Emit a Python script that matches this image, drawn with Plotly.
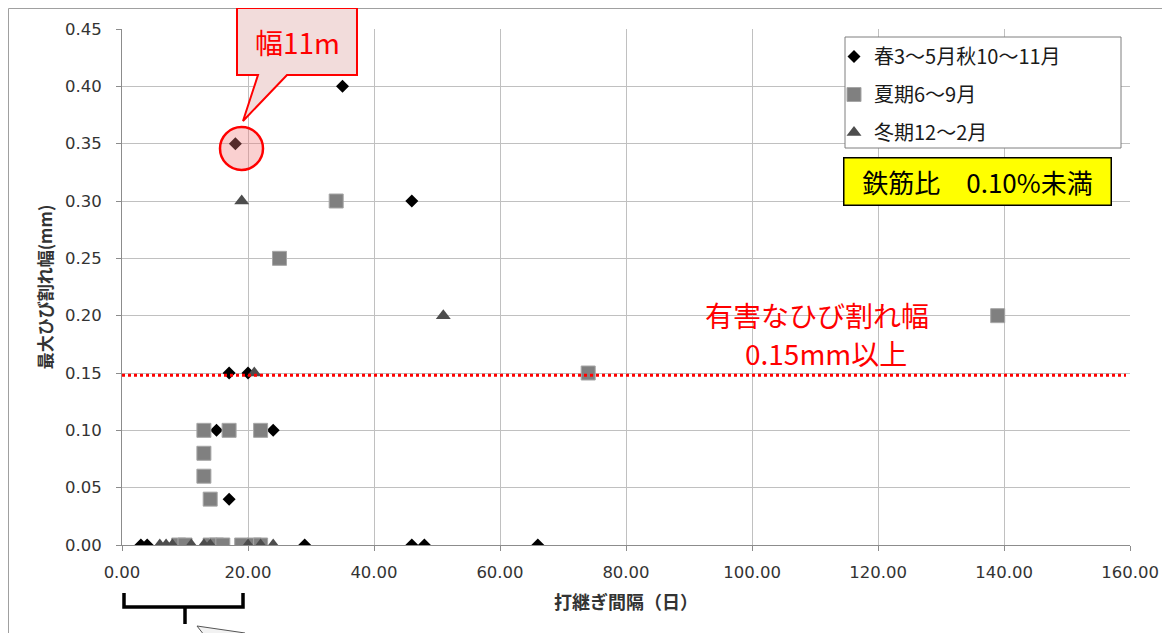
import plotly.graph_objects as go

# ---------------- data ----------------
spring_x = [35, 18, 46, 17, 20, 15, 24, 17, 3, 4, 29, 46, 48, 66]
spring_y = [0.40, 0.35, 0.30, 0.15, 0.15, 0.10, 0.10, 0.04, 0, 0, 0, 0, 0, 0]
summer_x = [34, 25, 139, 74, 13, 17, 22, 13, 13, 14, 9, 10, 14, 15, 16, 19, 21, 22]
summer_y = [0.30, 0.25, 0.20, 0.15, 0.10, 0.10, 0.10, 0.08, 0.06, 0.04, 0, 0, 0, 0, 0, 0, 0, 0]
winter_x = [19, 51, 21, 6, 7, 8, 11, 13, 14, 20, 22, 24]
winter_y = [0.30, 0.20, 0.15, 0, 0, 0, 0, 0, 0, 0, 0, 0]

series_names = ["春3～5月秋10～11月", "夏期6～9月", "冬期12～2月"]
threshold = 0.148
x_ticks = [0, 20, 40, 60, 80, 100, 120, 140, 160]
y_ticks = [0, 0.05, 0.10, 0.15, 0.20, 0.25, 0.30, 0.35, 0.40, 0.45]

# ---------------- layout helpers (page pixel -> paper) ----------------
W, H = 1170, 633
OFF = 8                       # page offset of the figure
L_PAGE, T_PAGE = 122, 29      # plot area top-left on the page
PW, PH = 1008, 516            # plot area size
ML, MT = L_PAGE - OFF, T_PAGE - OFF
MR = W - ML - PW
MB = H - MT - PH


def px(x):
    return (x - L_PAGE) / PW


def py(y):
    return (T_PAGE + PH - y) / PH


def path(points):
    return "M " + " L ".join(f"{px(a):.5f},{py(b):.5f}" for a, b in points)


FONT = "Noto Sans CJK JP, Noto Sans, sans-serif"
NUMFONT = "DejaVu Sans, Noto Sans, sans-serif"

fig = go.Figure()
fig.add_trace(go.Scatter(
    x=spring_x, y=spring_y, mode="markers", name=series_names[0], legendgroup="a",
    marker=dict(symbol="diamond", size=10, color="#000000", line=dict(width=0))))
fig.add_trace(go.Scatter(
    x=summer_x, y=summer_y, mode="markers", name=series_names[1], legendgroup="b",
    marker=dict(symbol="square", size=14, color="#808080", line=dict(width=1, color="#a6a6a6"))))
fig.add_trace(go.Scatter(
    x=winter_x, y=winter_y, mode="markers", name=series_names[2], legendgroup="c",
    marker=dict(symbol="triangle-up", size=13, color="#4d4d4d", line=dict(width=0))))

shapes = []
# outer frame
shapes.append(dict(type="rect", xref="paper", yref="paper",
                   x0=px(8.5), x1=px(1200), y0=py(8.5), y1=py(700),
                   line=dict(color="#a0a0a0", width=1), fillcolor="rgba(0,0,0,0)", layer="below"))
# threshold dotted line
shapes.append(dict(type="line", xref="paper", yref="y", x0=0, x1=px(1126),
                   y0=threshold, y1=threshold,
                   line=dict(color="#ff0000", width=3, dash="dot"), layer="above"))
# legend box
shapes.append(dict(type="rect", xref="paper", yref="paper",
                   x0=px(845), x1=px(1121), y0=py(37), y1=py(148),
                   line=dict(color="#7f7f7f", width=1), fillcolor="#ffffff", layer="above"))
# callout highlight circle
shapes.append(dict(type="circle", xref="paper", yref="paper",
                   x0=px(220), x1=px(263), y0=py(170), y1=py(127),
                   line=dict(color="#ff0000", width=2.5), fillcolor="rgba(240,120,120,0.35)",
                   layer="above"))
# callout speech box
shapes.append(dict(type="path", xref="paper", yref="paper",
                   path=path([(237, 8), (357, 8), (357, 75), (287, 75), (243, 121),
                              (258, 75), (237, 75)]) + " Z",
                   line=dict(color="#ff0000", width=2), fillcolor="#f2dcdb", layer="above"))
# bracket under x-axis
shapes.append(dict(type="path", xref="paper", yref="paper",
                   path=path([(124, 593), (124, 607), (243, 607), (243, 593)]),
                   line=dict(color="#000000", width=3.5), layer="above"))
shapes.append(dict(type="path", xref="paper", yref="paper",
                   path=path([(185, 607), (185, 624)]),
                   line=dict(color="#000000", width=3.5), layer="above"))
# partial pointer at the bottom edge
shapes.append(dict(type="path", xref="paper", yref="paper",
                   path=path([(197, 626), (245, 633), (245, 645), (212, 645)]) + " Z",
                   line=dict(color="#555555", width=1), fillcolor="#f2f2f2", layer="above"))

annotations = [
    dict(xref="paper", yref="paper", x=px(297), y=py(42), text="幅11m", showarrow=False,
         font=dict(family=FONT, size=28, color="#ff0000"), xanchor="center", yanchor="middle"),
    dict(xref="paper", yref="paper", x=px(977), y=py(182), text="鉄筋比　0.10%未満",
         showarrow=False, font=dict(family=FONT, size=26, color="#000000"),
         bgcolor="#ffff00", bordercolor="#000000", borderwidth=1.5, borderpad=0,
         width=266, height=46, xanchor="center", yanchor="middle"),
    dict(xref="paper", yref="paper", x=px(817), y=py(315),
         text="有害なひび割れ幅", showarrow=False,
         font=dict(family=FONT, size=28, color="#ff0000"), xanchor="center", yanchor="middle"),
    dict(xref="paper", yref="paper", x=px(826), y=py(353),
         text="0.15mm以上", showarrow=False,
         font=dict(family=FONT, size=28, color="#ff0000"), xanchor="center", yanchor="middle"),
]

fig.update_layout(
    width=W, height=H,
    margin=dict(l=ML, r=MR, t=MT, b=MB, pad=0),
    paper_bgcolor="#ffffff", plot_bgcolor="#ffffff",
    font=dict(family=FONT, size=16, color="#333333"),
    shapes=shapes, annotations=annotations,
    showlegend=True,
    legend=dict(x=px(834), y=py(37), xanchor="left", yanchor="top",
                bgcolor="rgba(0,0,0,0)", borderwidth=0, traceorder="grouped",
                tracegroupgap=9, font=dict(family=FONT, size=20, color="#1a1a1a")),
    xaxis=dict(range=[0, 160], tickvals=x_ticks, tickformat=".2f",
               showgrid=True, gridcolor="#c0c0c0", gridwidth=1,
               showline=True, linecolor="#8c8c8c", linewidth=1, zeroline=False,
               ticks="outside", ticklen=5, tickcolor="#8c8c8c",
               ticklabelstandoff=7,
               tickfont=dict(family=NUMFONT, size=16.5, color="#333333"),
               title=dict(text="<b>打継ぎ間隔（日）</b>", standoff=15,
                          font=dict(family=FONT, size=18, color="#333333"))),
    yaxis=dict(range=[0, 0.45], tickvals=y_ticks, tickformat=".2f",
               showgrid=True, gridcolor="#c0c0c0", gridwidth=1,
               showline=True, linecolor="#8c8c8c", linewidth=1, zeroline=False,
               ticks="outside", ticklen=5, tickcolor="#8c8c8c",
               ticklabelstandoff=11,
               tickfont=dict(family=NUMFONT, size=16.5, color="#333333"),
               title=dict(text="<b>最大ひび割れ幅(mm)</b>", standoff=8,
                          font=dict(family=FONT, size=17, color="#333333"))),
)

fig.write_html("out.html")
